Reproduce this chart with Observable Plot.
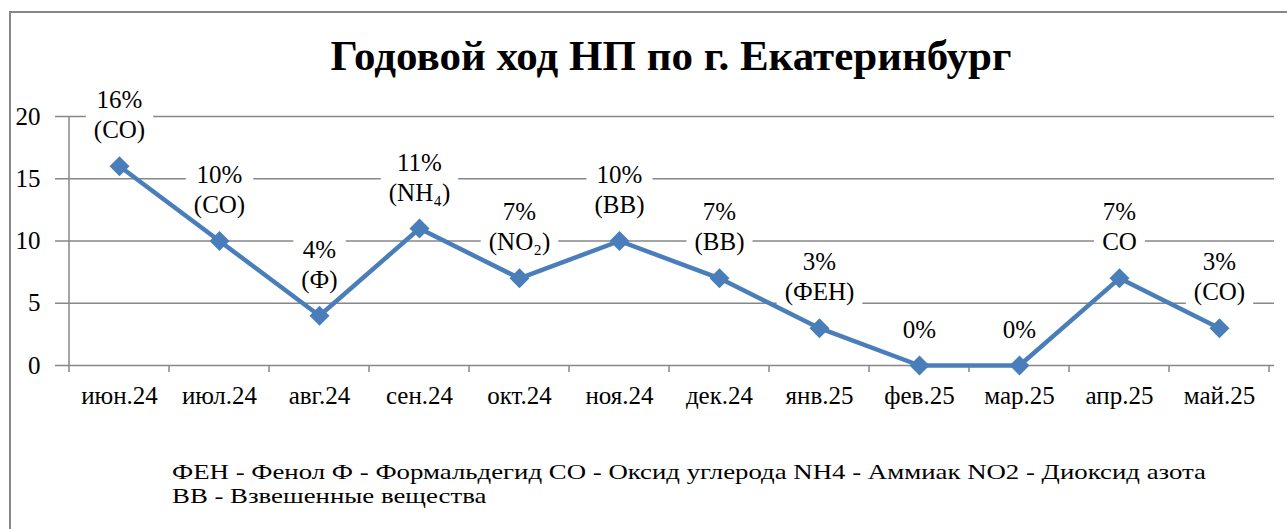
<!DOCTYPE html>
<html><head><meta charset="utf-8">
<script src="https://cdn.jsdelivr.net/npm/d3@7"></script>
<script src="https://cdn.jsdelivr.net/npm/@observablehq/plot@0.6"></script>
<style>
html,body{margin:0;padding:0;background:#fff;overflow:hidden;width:1287px;height:529px}
#frame{position:absolute;left:9px;top:11px;width:1300px;height:540px;border:2px solid #878787;box-sizing:border-box}
#title{position:absolute;left:0;width:1342px;top:34px;text-align:center;font:bold 43px "Liberation Serif","Times New Roman",serif;line-height:43px;white-space:nowrap}
#chart{position:absolute;left:0;top:0}
#caption{position:absolute;left:172px;top:460px;font:21.5px "Liberation Serif","Times New Roman",serif;line-height:24px;white-space:nowrap;transform-origin:0 0}
</style></head>
<body>
<div id="frame"></div>
<div id="chart"></div>
<div id="title"></div>
<div id="caption"></div>
<script>
const titleText = "Годовой ход НП по г. Екатеринбург";
const months = ["июн.24","июл.24","авг.24","сен.24","окт.24","ноя.24","дек.24","янв.25","фев.25","мар.25","апр.25","май.25"];
const values = [16, 10, 4, 11, 7, 10, 7, 3, 0, 0, 7, 3];
const substances = ["(СО)","(СО)","(Ф)","(NH₄)","(NO₂)","(ВВ)","(ВВ)","(ФЕН)","","","СО","(СО)"];
const yTicks = [0, 5, 10, 15, 20];
const captionLines = [
  "ФЕН - Фенол Ф - Формальдегид СО - Оксид углерода NH4 - Аммиак NO2 - Диоксид азота",
  "ВВ - Взвешенные вещества"
];

const lineColor = "#4a7ebb";
const gridColor = "#878787";
const serif = '"Liberation Serif", "Times New Roman", serif';

const data = months.map((m, i) => ({
  month: m,
  value: values[i],
  label: substances[i] ? `${values[i]}%\n${substances[i]}` : `${values[i]}%`
}));

function axesMark(index, scales) {
  const g = d3.create("svg:g");
  const x = scales.x, y = scales.y;
  const bw = x.bandwidth();
  const xs = months.map(m => x(m)).concat([x(months[months.length - 1]) + bw]);
  const y0 = y(0), yTop = y(d3.max(yTicks));
  g.append("line").attr("x1", xs[0]).attr("x2", xs[0]).attr("y1", yTop).attr("y2", y0)
    .attr("stroke", gridColor).attr("stroke-width", 1.5);
  g.selectAll("line.t").data(xs).join("line").attr("class", "t")
    .attr("x1", d => d).attr("x2", d => d).attr("y1", y0).attr("y2", y0 + 7)
    .attr("stroke", gridColor).attr("stroke-width", 1.5);
  return g.node();
}

const chart = Plot.plot({
  width: 1287, height: 420,
  marginLeft: 63, marginRight: 13, marginTop: 116, marginBottom: 55,
  style: {background: "transparent", fontFamily: serif, fontSize: "25px", color: "#000"},
  x: {type: "band", domain: months, padding: 0, label: null},
  y: {domain: [0, 20], label: null},
  marks: [
    Plot.ruleY(yTicks.filter(d => d > 0), {stroke: gridColor, strokeWidth: 1.5, strokeOpacity: 1}),
    Plot.ruleY([0], {stroke: gridColor, strokeWidth: 1.5, strokeOpacity: 1}),
    axesMark,
    Plot.axisY({ticks: yTicks, tickSize: 8, tickPadding: 15, stroke: gridColor, strokeWidth: 1.5, strokeOpacity: 1, fontSize: 25, label: null}),
    Plot.axisX({tickSize: 0, tickPadding: 21, fontSize: 25, label: null}),
    Plot.line(data, {x: "month", y: "value", stroke: lineColor, strokeWidth: 4.5}),
    Plot.dot(data, {x: "month", y: "value", symbol: "diamond2", r: 9, fill: lineColor, stroke: "none"}),
    Plot.text(data, {x: "month", y: "value", text: "label", lineAnchor: "bottom", dy: -28, lineHeight: 1.2, fontSize: 25, fill: "#000"})
  ]
});
document.getElementById("chart").appendChild(chart);

// white label boxes (hide the gridlines behind data labels), drawn beneath the line
const textGroup = chart.querySelector('g[aria-label="text"]');
const lineGroup = chart.querySelector('g[aria-label="line"]');
const boxes = document.createElementNS("http://www.w3.org/2000/svg", "g");
const gt = textGroup.getAttribute("transform");
if (gt) boxes.setAttribute("transform", gt);
textGroup.querySelectorAll("text").forEach(function(t) {
  const b = t.getBBox();
  const r = document.createElementNS("http://www.w3.org/2000/svg", "rect");
  r.setAttribute("x", b.x - 8);
  r.setAttribute("y", b.y);
  r.setAttribute("width", b.width + 16);
  r.setAttribute("height", b.height);
  r.setAttribute("fill", "#fff");
  const tr = t.getAttribute("transform");
  if (tr) r.setAttribute("transform", tr);
  boxes.appendChild(r);
});
lineGroup.parentNode.insertBefore(boxes, lineGroup);

document.getElementById("title").textContent = titleText;
const cap = document.getElementById("caption");
cap.innerHTML = captionLines.map(s => `<div>${s}</div>`).join("");
// stretch the caption to the width seen in the reference (first line ≈ 1034px)
const range = document.createRange(); range.selectNodeContents(cap.firstChild);
const tw = range.getBoundingClientRect().width;
cap.style.transform = `scaleX(${1034 / tw})`;
</script>
</body></html>
